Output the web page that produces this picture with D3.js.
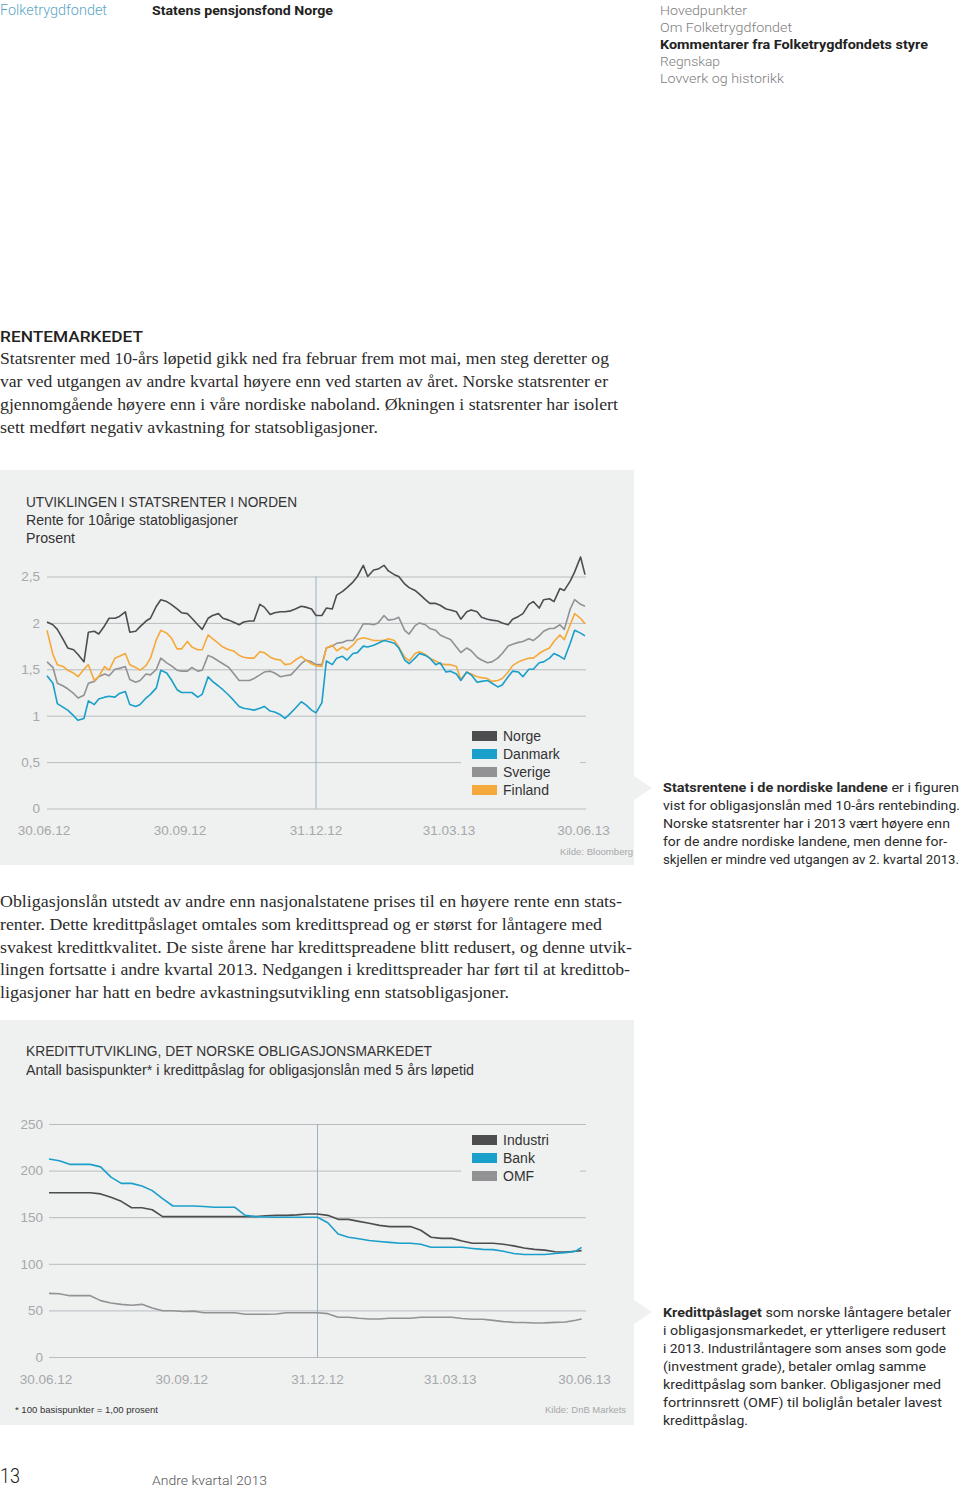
<!DOCTYPE html>
<html><head><meta charset="utf-8">
<script src="https://cdn.jsdelivr.net/npm/d3@7/dist/d3.min.js"></script>
<style>html,body{margin:0;padding:0;background:#fff}svg{display:block}</style>
</head><body><svg id="page" width="960" height="1489"></svg>
<script>
// ---------- DATA: chart 1 (10-year government bond yields, %) ----------
const dates1 = ["2012-06-29","2012-07-03","2012-07-06","2012-07-10","2012-07-13","2012-07-17","2012-07-20","2012-07-24","2012-07-27","2012-07-31",
"2012-08-03","2012-08-07","2012-08-10","2012-08-14","2012-08-17","2012-08-21","2012-08-24","2012-08-28","2012-08-31","2012-09-04",
"2012-09-07","2012-09-11","2012-09-14","2012-09-18","2012-09-21","2012-09-25","2012-09-28","2012-10-02","2012-10-05","2012-10-09",
"2012-10-12","2012-10-16","2012-10-19","2012-10-23","2012-10-26","2012-10-30","2012-11-02","2012-11-06","2012-11-09","2012-11-13",
"2012-11-16","2012-11-20","2012-11-23","2012-11-27","2012-11-30","2012-12-04","2012-12-07","2012-12-11","2012-12-14","2012-12-18",
"2012-12-21","2012-12-25","2012-12-28","2013-01-01","2013-01-04","2013-01-08","2013-01-11","2013-01-15","2013-01-18","2013-01-22",
"2013-01-25","2013-01-29","2013-02-01","2013-02-05","2013-02-08","2013-02-12","2013-02-15","2013-02-19","2013-02-22","2013-02-26",
"2013-03-01","2013-03-05","2013-03-08","2013-03-12","2013-03-15","2013-03-19","2013-03-22","2013-03-26","2013-03-29","2013-04-02",
"2013-04-05","2013-04-09","2013-04-12","2013-04-16","2013-04-19","2013-04-23","2013-04-26","2013-04-30","2013-05-03","2013-05-07",
"2013-05-10","2013-05-14","2013-05-17","2013-05-21","2013-05-24","2013-05-28","2013-05-31","2013-06-04","2013-06-07","2013-06-11",
"2013-06-14","2013-06-18","2013-06-21","2013-06-25","2013-06-28"];
const norge = [2.01,1.98,1.93,1.82,1.73,1.71,1.66,1.58,1.90,1.91,
1.88,1.97,2.05,2.05,2.07,2.12,1.90,1.91,1.96,2.02,
2.05,2.18,2.25,2.23,2.20,2.15,2.11,2.10,2.05,1.98,
1.93,2.05,2.08,2.10,2.05,2.03,2.01,1.98,2.01,2.02,
2.02,2.20,2.17,2.09,2.11,2.12,2.12,2.13,2.15,2.18,
2.17,2.15,2.08,2.08,2.16,2.15,2.30,2.34,2.38,2.44,
2.50,2.62,2.50,2.57,2.58,2.62,2.56,2.52,2.50,2.42,
2.38,2.35,2.31,2.25,2.21,2.21,2.19,2.15,2.14,2.12,
2.04,2.12,2.14,2.12,2.06,2.04,2.03,2.02,2.00,1.98,
2.04,2.07,2.10,2.20,2.23,2.16,2.25,2.26,2.23,2.37,
2.35,2.45,2.55,2.71,2.52];
const danmark = [1.43,1.35,1.13,1.09,1.06,1.00,0.95,0.97,1.16,1.12,
1.18,1.20,1.21,1.20,1.24,1.26,1.12,1.10,1.12,1.19,
1.23,1.30,1.49,1.46,1.39,1.28,1.25,1.25,1.25,1.20,
1.23,1.42,1.37,1.32,1.28,1.22,1.17,1.10,1.08,1.07,
1.06,1.08,1.10,1.05,1.04,1.01,0.97,1.03,1.08,1.15,
1.12,1.06,1.03,1.14,1.59,1.55,1.62,1.64,1.60,1.67,
1.68,1.75,1.74,1.76,1.78,1.81,1.80,1.78,1.73,1.60,
1.56,1.62,1.67,1.65,1.62,1.55,1.57,1.47,1.48,1.45,
1.38,1.47,1.44,1.36,1.37,1.38,1.35,1.31,1.33,1.42,
1.48,1.47,1.42,1.50,1.50,1.57,1.58,1.62,1.67,1.64,
1.61,1.78,1.92,1.89,1.86];
const sverige = [1.58,1.52,1.35,1.32,1.29,1.24,1.19,1.22,1.35,1.37,
1.42,1.45,1.43,1.50,1.51,1.53,1.39,1.36,1.38,1.45,
1.44,1.50,1.62,1.57,1.54,1.49,1.48,1.48,1.52,1.48,
1.49,1.65,1.63,1.59,1.56,1.52,1.46,1.38,1.38,1.38,
1.40,1.44,1.47,1.48,1.46,1.42,1.43,1.44,1.49,1.56,
1.60,1.58,1.55,1.55,1.73,1.75,1.78,1.79,1.81,1.81,
1.88,1.99,1.99,1.98,2.00,2.08,2.03,2.04,2.06,1.92,
1.88,1.97,2.00,1.98,1.94,1.92,1.87,1.84,1.82,1.74,
1.68,1.73,1.70,1.63,1.60,1.57,1.58,1.62,1.67,1.75,
1.77,1.79,1.80,1.83,1.81,1.86,1.91,1.94,1.94,1.98,
1.93,2.15,2.25,2.20,2.18];
const finland = [1.92,1.66,1.55,1.53,1.49,1.46,1.42,1.50,1.55,1.38,
1.42,1.53,1.49,1.62,1.64,1.67,1.55,1.52,1.49,1.54,
1.62,1.82,1.92,1.89,1.84,1.72,1.72,1.80,1.74,1.71,
1.71,1.87,1.83,1.78,1.74,1.71,1.70,1.65,1.63,1.62,
1.62,1.69,1.68,1.63,1.61,1.60,1.55,1.56,1.60,1.64,
1.60,1.56,1.54,1.53,1.73,1.76,1.70,1.74,1.71,1.76,
1.82,1.84,1.83,1.81,1.81,1.81,1.83,1.81,1.74,1.63,
1.59,1.67,1.69,1.66,1.62,1.59,1.56,1.55,1.55,1.53,
1.39,1.47,1.45,1.42,1.41,1.40,1.37,1.38,1.40,1.47,
1.54,1.58,1.60,1.62,1.62,1.67,1.70,1.73,1.80,1.87,
1.82,1.98,2.10,2.05,1.99];
const series1Names = ["Norge","Danmark","Sverige","Finland"];
const yTicks1 = [0,0.5,1,1.5,2,2.5];
const yTickLabels1 = ["0","0,5","1","1,5","2","2,5"];

// ---------- DATA: chart 2 (credit spreads, basis points) ----------
const dates2 = ["2012-06-29","2012-07-06","2012-07-13","2012-07-20","2012-07-27","2012-08-03","2012-08-10","2012-08-17","2012-08-24","2012-08-31",
"2012-09-07","2012-09-14","2012-09-21","2012-09-28","2012-10-05","2012-10-12","2012-10-19","2012-10-26","2012-11-02","2012-11-09",
"2012-11-16","2012-11-23","2012-11-30","2012-12-07","2012-12-14","2012-12-21","2012-12-28","2013-01-04","2013-01-11","2013-01-18",
"2013-01-25","2013-02-01","2013-02-08","2013-02-15","2013-02-22","2013-03-01","2013-03-08","2013-03-15","2013-03-22","2013-03-29",
"2013-04-05","2013-04-12","2013-04-19","2013-04-26","2013-05-03","2013-05-10","2013-05-17","2013-05-24","2013-05-31","2013-06-07",
"2013-06-14","2013-06-21","2013-06-25"];
const industri = [176.3,176.3,176.3,176.3,176.3,175,171.3,167,160.2,160.2,
158,150.6,150.6,150.6,150.6,150.6,150.6,150.6,150.6,150.6,
150.6,151.5,152,152,152.5,153.4,153.4,152,147.7,147.7,
145.5,143.5,141.2,139.9,139.9,139.9,136,128.5,127.3,127.3,
124.5,122,122,122,121,119.2,117,115.5,114.7,113,
112.5,113.5,114.1];
const bank = [212.4,210.5,206.7,206.7,206.7,204,193,186.3,186.3,183.5,
178.5,170,162,162,162,161.5,160.6,160.6,160.6,152,
150.6,150.2,150,150,150,150,150,144,132,128.5,
126.8,125,123.9,123,122,122,121,117.7,117.7,117.7,
117.7,116.5,115.5,115.2,113.5,111,110,110,110,111,
112,113.5,117.7];
const omf = [68.3,67.8,65.8,65.8,65.8,60.5,58,56.5,55.5,56.5,
52.5,49.7,49.7,48.8,49.2,47.5,47.5,47.5,47.5,45.8,
45.8,45.8,46.2,47.5,47.5,47.5,47.5,46.5,42.6,42.6,
41.5,40.8,40.8,41.5,41.5,41.5,42.6,42.6,42.6,42.6,
41.3,40.5,40.5,39.3,38,37.2,37,36.4,36.6,37.2,
37.5,39.5,40.8];
const series2Names = ["Industri","Bank","OMF"];
const yTicks2 = [0,50,100,150,200,250];

// shared x tick labels
const xTickDates = ["2012-06-30","2012-09-30","2012-12-31","2013-03-31","2013-06-30"];
const xTickLabels = ["30.06.12","30.09.12","31.12.12","31.03.13","30.06.13"];
const quarterLine = "2012-12-28";

// ---------- TEXT ----------
const navItems = ["Hovedpunkter","Om Folketrygdfondet","Kommentarer fra Folketrygdfondets styre","Regnskap","Lovverk og historikk"];
const para1 = ["Statsrenter med 10-års løpetid gikk ned fra februar frem mot mai, men steg deretter og",
"var ved utgangen av andre kvartal høyere enn ved starten av året. Norske statsrenter er",
"gjennomgående høyere enn i våre nordiske naboland. Økningen i statsrenter har isolert",
"sett medført negativ avkastning for statsobligasjoner."];
const para2 = ["Obligasjonslån utstedt av andre enn nasjonalstatene prises til en høyere rente enn stats-",
"renter. Dette kredittpåslaget omtales som kredittspread og er størst for låntagere med",
"svakest kredittkvalitet. De siste årene har kredittspreadene blitt redusert, og denne utvik-",
"lingen fortsatte i andre kvartal 2013. Nedgangen i kredittspreader har ført til at kredittob-",
"ligasjoner har hatt en bedre avkastningsutvikling enn statsobligasjoner."];
const side1 = [[{t:"Statsrentene i de nordiske landene",b:1},{t:" er i figuren"}],
[{t:"vist for obligasjonslån med 10-års rentebinding."}],
[{t:"Norske statsrenter har i 2013 vært høyere enn"}],
[{t:"for de andre nordiske landene, men denne for-"}],
[{t:"skjellen er mindre ved utgangen av 2. kvartal 2013."}]];
const side2 = [[{t:"Kredittpåslaget",b:1},{t:" som norske låntagere betaler"}],
[{t:"i obligasjonsmarkedet, er ytterligere redusert"}],
[{t:"i 2013. Industrilåntagere som anses som gode"}],
[{t:"(investment grade), betaler omlag samme"}],
[{t:"kredittpåslag som banker. Obligasjoner med"}],
[{t:"fortrinnsrett (OMF) til boliglån betaler lavest"}],
[{t:"kredittpåslag."}]];

// ---------- DRAWING ----------
const SANS = "'Liberation Sans', Arial, sans-serif";
const DIN = "Roboto, 'Noto Sans', sans-serif";
const SERIF = "'Liberation Serif', 'DejaVu Serif', serif";
const PANEL = "#eff0f0", GRID = "#b9bdc1", TICK = "#a6a8aa", VLINE = "#9cb0c2";
const colors = {Norge:"#4d4d4f",Danmark:"#1a9fcb",Sverige:"#929295",Finland:"#f5a93a",Industri:"#4d4d4f",Bank:"#1a9fcb",OMF:"#929295"};
const parse = d3.timeParse("%Y-%m-%d");
const svg = d3.select("#page");

function T(g, x, y, s, o) {
  o = o || {};
  const t = g.append("text").attr("x", x).attr("y", y)
    .style("font-family", o.f || SANS).style("font-size", (o.s || 13) + "px")
    .attr("fill", o.c || "#333");
  if (o.wt) t.style("font-weight", o.wt);
  if (o.a) t.attr("text-anchor", o.a);
  if (Array.isArray(s)) s.forEach(p => t.append("tspan").text(p.t).style("font-weight", p.b ? "bold" : null));
  else t.text(s);
  if (o.w) t.attr("textLength", o.w).attr("lengthAdjust", "spacingAndGlyphs");
  return t;
}

// header
T(svg, 0, 15, "Folketrygdfondet", {f:DIN, s:14, c:"#5aa6c6", wt:300, w:107});
T(svg, 152, 15, "Statens pensjonsfond Norge", {f:DIN, s:13, c:"#222", wt:"bold", w:181});
const navW = [87,132,268,60,124];
navItems.forEach((n,i) => T(svg, 660, 15 + i*17, n, {f:DIN, s:13, c: i===2 ? "#222" : "#7d7d7d", wt: i===2 ? "bold" : 300, w:navW[i]}));

// section heading + paragraph 1
T(svg, 0, 342, "RENTEMARKEDET", {f:DIN, s:15.5, c:"#222", wt:500, w:143});
const p1W = [609,608,618,378];
para1.forEach((l,i) => T(svg, 0, 364 + i*23, l, {f:SERIF, s:16.5, c:"#2b2b2b", w:p1W[i]}));
const p2W = [622,602,632,630,509];
para2.forEach((l,i) => T(svg, 0, 907 + i*22.8, l, {f:SERIF, s:16.5, c:"#2b2b2b", w:p2W[i]}));

// side texts
const s1W = [296,297,287,284,296];
side1.forEach((l,i) => T(svg, 663, 792 + i*18, l, {f:DIN, s:13, c:"#2b2b2b", w:s1W[i]}));
const s2W = [288,283,283,263,278,279,85];
side2.forEach((l,i) => T(svg, 663, 1317 + i*18, l, {f:DIN, s:13, c:"#2b2b2b", w:s2W[i]}));

// footer
T(svg, 0, 1483, "13", {f:DIN, s:20, c:"#222", wt:300, w:20});
T(svg, 152, 1485, "Andre kvartal 2013", {f:DIN, s:13, c:"#555", wt:300, w:115});

function panel(top, bottom, notchY) {
  svg.append("rect").attr("x",0).attr("y",top).attr("width",634).attr("height",bottom-top).attr("fill",PANEL);
  svg.append("path").attr("d",`M634,${notchY-12}L652,${notchY}L634,${notchY+12}Z`).attr("fill",PANEL);
}

function drawChart(cfg) {
  const g = svg.append("g");
  const x = d3.scaleTime().domain([parse("2012-06-29"), parse("2013-06-28")]).range(cfg.xr);
  const y = d3.scaleLinear().domain(cfg.yd).range(cfg.yr);
  const ya = d3.axisLeft(y).tickValues(cfg.yTicks).tickSize(-(586 - cfg.xr[0])).tickPadding(cfg.pad)
    .tickFormat((d,i) => cfg.yLabels[i]);
  const yg = g.append("g").attr("transform", `translate(${cfg.xr[0]},0)`).call(ya);
  yg.select(".domain").remove();
  yg.selectAll("line").attr("stroke", GRID).attr("stroke-width", 1);
  yg.selectAll("text").attr("fill", TICK).style("font-family", SANS).style("font-size", "13.5px");
  g.append("line").attr("x1", x(parse(quarterLine))).attr("x2", x(parse(quarterLine)))
    .attr("y1", y(cfg.yd[1])).attr("y2", y(0)).attr("stroke", VLINE).attr("stroke-width", 1);
  const xa = d3.axisBottom(x).tickValues(xTickDates.map(parse)).tickSize(0).tickPadding(17)
    .tickFormat((d,i) => xTickLabels[i]);
  const xg = g.append("g").attr("transform", `translate(0,${y(0)})`).call(xa);
  xg.select(".domain").remove();
  xg.selectAll("text").attr("fill", TICK).attr("dx", -5).style("font-family", SANS).style("font-size", "13.5px");
  g.append("rect").attr("x", 461).attr("y", cfg.legY - 10).attr("width", 119).attr("height", cfg.names.length*18 + 8).attr("fill", PANEL);
  const line = d3.line().x((d,i) => x(parse(cfg.dates[i]))).y(d => y(d));
  cfg.drawOrder.forEach(k => {
    g.append("path").datum(cfg.values[k]).attr("d", line).attr("fill", "none")
      .attr("stroke", colors[k]).attr("stroke-width", 1.6).attr("stroke-linejoin", "round");
  });
  cfg.names.forEach((n,i) => {
    const ly = cfg.legY + i*18;
    g.append("rect").attr("x", 472).attr("y", ly - 5).attr("width", 25).attr("height", 10).attr("fill", colors[n]);
    T(g, 503, ly + 5, n, {s:14, c:"#333"});
  });
}

// chart 1
panel(470, 865, 788);
T(svg, 26, 507, "UTVIKLINGEN I STATSRENTER I NORDEN", {s:14.5, c:"#333", w:271});
T(svg, 26, 525, "Rente for 10årige statobligasjoner", {s:14.5, c:"#333", w:212});
T(svg, 26, 543, "Prosent", {s:14.5, c:"#333", w:49});
drawChart({xr:[47,585], yd:[0,2.5], yr:[808.5,576.5], yTicks:yTicks1, yLabels:yTickLabels1, pad:7,
  dates:dates1, values:{Norge:norge, Danmark:danmark, Sverige:sverige, Finland:finland},
  names:series1Names, drawOrder:["Sverige","Finland","Danmark","Norge"], legY:736});
T(svg, 633, 855, "Kilde: Bloomberg", {s:9.5, c:"#a6a8aa", a:"end", w:73});

// chart 2
panel(1020, 1425, 1312);
T(svg, 26, 1056, "KREDITTUTVIKLING, DET NORSKE OBLIGASJONSMARKEDET", {s:14.5, c:"#333", w:406});
T(svg, 26, 1075, "Antall basispunkter* i kredittpåslag for obligasjonslån med 5 års løpetid", {s:14.5, c:"#333", w:448});
drawChart({xr:[49,586], yd:[0,250], yr:[1357,1124], yTicks:yTicks2, yLabels:yTicks2.map(String), pad:6,
  dates:dates2, values:{Industri:industri, Bank:bank, OMF:omf},
  names:series2Names, drawOrder:["OMF","Industri","Bank"], legY:1140});
T(svg, 15, 1413, "* 100 basispunkter = 1,00 prosent", {s:9.5, c:"#333", w:143});
T(svg, 626, 1413, "Kilde: DnB Markets", {s:9.5, c:"#a6a8aa", a:"end", w:81});
</script></body></html>
